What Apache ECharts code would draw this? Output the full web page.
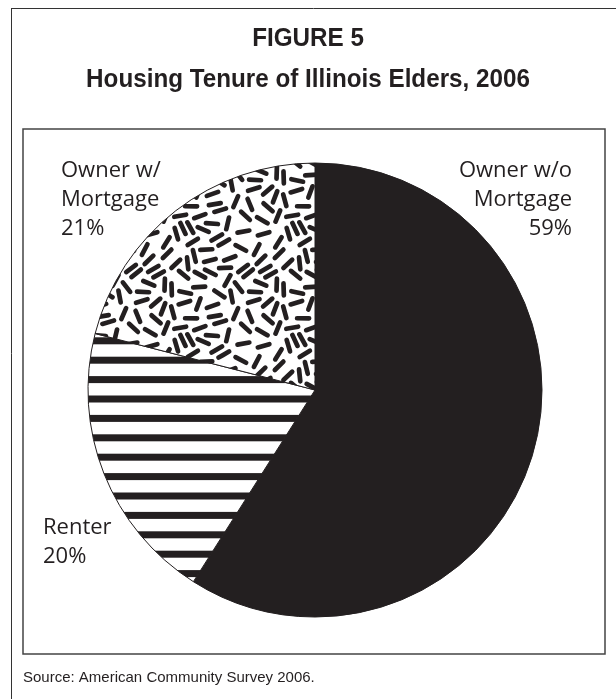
<!DOCTYPE html>
<html>
<head>
<meta charset="utf-8">
<title>Housing Tenure of Illinois Elders, 2006</title>
<script src="https://cdn.jsdelivr.net/npm/echarts@6/dist/echarts.min.js"></script>
<style>
  html, body { margin: 0; padding: 0; background: #ffffff; }
  #chart { width: 616px; height: 699px; }
</style>
</head>
<body>
<div id="chart"></div>
<script>
// Tenure categories and their share of elder households (percent)
const categories = ['Owner w/o\nMortgage', 'Renter', 'Owner w/\nMortgage'];
const shares = [59, 20, 21];

const figureLabel = 'FIGURE 5';
const figureTitle = 'Housing Tenure of Illinois Elders, 2006';
const sourceNote = 'Source: American Community Survey 2006.';

const INK = '#231f20';

// Where each slice label sits, by data index
const labelSpots = [
  { x: 572, y: 199.5, align: 'right' },
  { x: 43, y: 542, align: 'left' },
  { x: 61, y: 199.5, align: 'left' }
];

// Horizontal stripe fill
function stripeTile() {
  const c = document.createElement('canvas');
  const period = 19.4, bands = 5;
  c.width = 20;
  c.height = Math.round(period * bands);
  const g = c.getContext('2d');
  g.fillStyle = '#ffffff';
  g.fillRect(0, 0, c.width, c.height);
  g.fillStyle = INK;
  for (let k = 0; k < bands; k++) {
    g.fillRect(0, 7.5 + k * period, c.width, 7);
  }
  return c;
}

// Distance between two segments (used to keep dashes apart)
function segDist(a, b) {
  function ptSeg(px, py, s) {
    const vx = s.x2 - s.x1, vy = s.y2 - s.y1;
    const l2 = vx * vx + vy * vy;
    let t = l2 ? ((px - s.x1) * vx + (py - s.y1) * vy) / l2 : 0;
    t = Math.max(0, Math.min(1, t));
    const dx = px - (s.x1 + t * vx), dy = py - (s.y1 + t * vy);
    return Math.sqrt(dx * dx + dy * dy);
  }
  function cross(ax, ay, bx, by) { return ax * by - ay * bx; }
  const d1 = cross(a.x2 - a.x1, a.y2 - a.y1, b.x1 - a.x1, b.y1 - a.y1);
  const d2 = cross(a.x2 - a.x1, a.y2 - a.y1, b.x2 - a.x1, b.y2 - a.y1);
  const d3 = cross(b.x2 - b.x1, b.y2 - b.y1, a.x1 - b.x1, a.y1 - b.y1);
  const d4 = cross(b.x2 - b.x1, b.y2 - b.y1, a.x2 - b.x1, a.y2 - b.y1);
  if (d1 * d2 < 0 && d3 * d4 < 0) return 0;
  return Math.min(ptSeg(a.x1, a.y1, b), ptSeg(a.x2, a.y2, b), ptSeg(b.x1, b.y1, a), ptSeg(b.x2, b.y2, a));
}

// Scattered short dashes fill: deterministic, non-touching placement on a wrapping tile
function dashTile() {
  const size = 112, half = 6, minGap = 6.6;
  const hash = (n) => {
    const s = Math.sin(n * 127.1 + 311.7) * 43758.5453;
    return s - Math.floor(s);
  };
  const placed = [];
  for (let i = 0; i < 10000; i++) {
    const cx = hash(i * 3 + 1) * size;
    const cy = hash(i * 3 + 2) * size;
    const a = hash(i * 3 + 3) * Math.PI;
    const dx = Math.cos(a) * half, dy = Math.sin(a) * half;
    const seg = { x1: cx - dx, y1: cy - dy, x2: cx + dx, y2: cy + dy };
    let ok = true;
    for (let j = 0; j < placed.length && ok; j++) {
      const p = placed[j];
      for (let ox = -size; ox <= size && ok; ox += size) {
        for (let oy = -size; oy <= size && ok; oy += size) {
          const q = { x1: p.x1 + ox, y1: p.y1 + oy, x2: p.x2 + ox, y2: p.y2 + oy };
          if (segDist(seg, q) < minGap) ok = false;
        }
      }
    }
    if (ok) placed.push(seg);
  }
  const c = document.createElement('canvas');
  c.width = size; c.height = size;
  const g = c.getContext('2d');
  g.fillStyle = '#ffffff';
  g.fillRect(0, 0, size, size);
  g.strokeStyle = INK;
  g.lineWidth = 4.7;
  g.lineCap = 'round';
  placed.forEach((p) => {
    for (let ox = -size; ox <= size; ox += size) {
      for (let oy = -size; oy <= size; oy += size) {
        g.beginPath();
        g.moveTo(p.x1 + ox, p.y1 + oy);
        g.lineTo(p.x2 + ox, p.y2 + oy);
        g.stroke();
      }
    }
  });
  return c;
}

const fills = [
  INK,
  { image: stripeTile(), repeat: 'repeat' },
  { image: dashTile(), repeat: 'repeat' }
];

const chart = echarts.init(document.getElementById('chart'), null, { renderer: 'canvas' });

chart.setOption({
  backgroundColor: '#ffffff',
  animation: false,
  graphic: [
    // outer frame (left and top rules)
    { type: 'line', shape: { x1: 11.5, y1: 8, x2: 11.5, y2: 699 }, style: { stroke: '#333333', lineWidth: 1 } },
    { type: 'line', shape: { x1: 11, y1: 8.5, x2: 616, y2: 8.5 }, style: { stroke: '#333333', lineWidth: 1 } },
    // plot box
    { type: 'rect', shape: { x: 23, y: 129, width: 582, height: 525 }, style: { fill: 'none', stroke: '#444444', lineWidth: 1.5 } },
    // headings
    {
      type: 'text', x: 308, y: 38.8, scaleX: 0.95,
      style: { text: figureLabel, x: 0, y: 0, align: 'center', verticalAlign: 'middle', textAlign: 'center', textVerticalAlign: 'middle',
               fontFamily: "'Liberation Sans', Arial, sans-serif", fontWeight: 'bold', fontSize: 25.5, fill: INK }
    },
    {
      type: 'text', x: 308, y: 80.4, scaleX: 0.95,
      style: { text: figureTitle, x: 0, y: 0, align: 'center', verticalAlign: 'middle', textAlign: 'center', textVerticalAlign: 'middle',
               fontFamily: "'Liberation Sans', Arial, sans-serif", fontWeight: 'bold', fontSize: 25.5, fill: INK }
    },
    // source note
    {
      type: 'text', x: 23, y: 677.6,
      style: { text: sourceNote, x: 0, y: 0, align: 'left', verticalAlign: 'middle', textAlign: 'left', textVerticalAlign: 'middle',
               fontFamily: "'Liberation Sans', Arial, sans-serif", fontSize: 15, fill: INK }
    }
  ],
  series: [{
    type: 'pie',
    center: [315, 390],
    radius: 227,
    startAngle: 90,
    clockwise: true,
    silent: true,
    data: categories.map((name, i) => ({
      name: name,
      value: shares[i],
      itemStyle: { color: fills[i] }
    })),
    itemStyle: { borderColor: INK, borderWidth: 1 },
    label: {
      show: true,
      position: 'outside',
      formatter: '{b}\n{c}%',
      fontFamily: "'Open Sans', 'Noto Sans', sans-serif",
      fontSize: 22,
      lineHeight: 29,
      color: INK,
      overflow: 'none',
      width: 200
    },
    labelLine: { show: false },
    labelLayout: function (params) {
      const s = labelSpots[params.dataIndex];
      return { x: s.x, y: s.y, align: s.align, verticalAlign: 'middle', moveOverlap: null };
    }
  }]
});
</script>
</body>
</html>
